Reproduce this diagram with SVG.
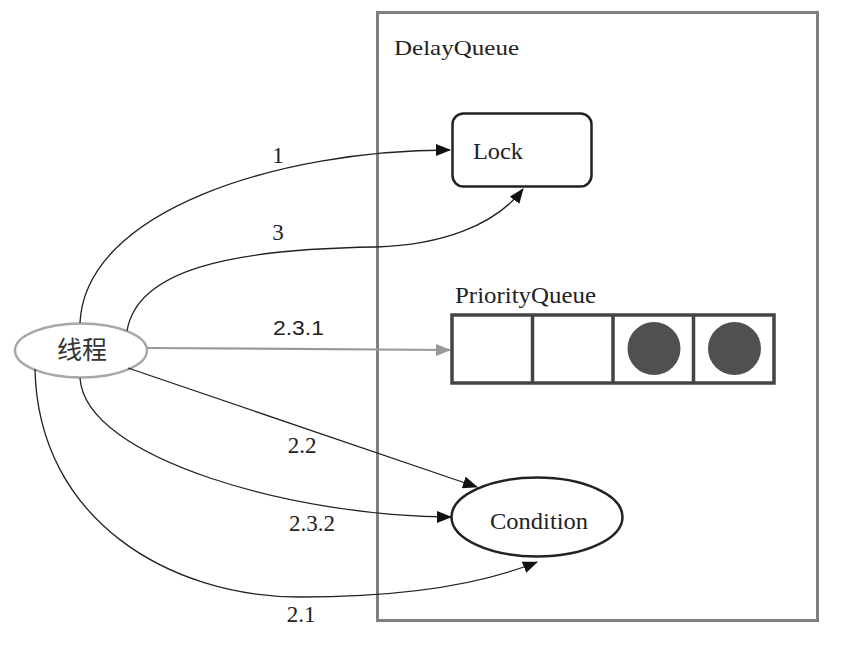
<svg xmlns="http://www.w3.org/2000/svg" width="846" height="646" viewBox="0 0 846 646">
<style>
.serif{font-family:"Liberation Serif","Times New Roman",serif;fill:#222;}
.sans{font-family:"Liberation Sans",Arial,sans-serif;fill:#222;}
.cjk{font-family:"Liberation Sans","Noto Sans CJK SC",sans-serif;fill:#333;}
.conn{fill:none;stroke:#222;stroke-width:1.3;}
.connGray{fill:none;stroke:#999;stroke-width:2.2;}
.lbl{font-size:23px;text-anchor:middle;}
</style>
<defs>
<marker id="arr" markerWidth="16" markerHeight="12" refX="14" refY="6" orient="auto" markerUnits="userSpaceOnUse">
<path d="M0,0 L15,6 L0,12 Z" fill="#111"/>
</marker>
<marker id="arrGray" markerWidth="16" markerHeight="12" refX="14" refY="6" orient="auto" markerUnits="userSpaceOnUse">
<path d="M0,0 L15,6 L0,12 Z" fill="#999"/>
</marker>
</defs>
<rect x="0" y="0" width="846" height="646" fill="#fff"/>

<g id="delayqueue">
<rect x="377.5" y="12.5" width="440" height="608" fill="none" stroke="#7f7f7f" stroke-width="3"/>
<text class="serif" x="394" y="55" font-size="22" textLength="125" lengthAdjust="spacingAndGlyphs">DelayQueue</text>
</g>

<g id="lock">
<rect x="452.5" y="113.5" width="139" height="73" rx="11" ry="11" fill="#fff" stroke="#222" stroke-width="2.5"/>
<text class="serif" x="473" y="159" font-size="24" textLength="50" lengthAdjust="spacingAndGlyphs">Lock</text>
</g>

<g id="priorityqueue">
<text class="serif" x="455" y="303" font-size="23" textLength="141" lengthAdjust="spacingAndGlyphs">PriorityQueue</text>
<rect x="452" y="315" width="322" height="68" fill="#fff" stroke="#444" stroke-width="3.5"/>
<line x1="532.5" y1="315" x2="532.5" y2="383" stroke="#444" stroke-width="3.5"/>
<line x1="613" y1="315" x2="613" y2="383" stroke="#444" stroke-width="3.5"/>
<line x1="693.5" y1="315" x2="693.5" y2="383" stroke="#444" stroke-width="3.5"/>
<circle cx="654" cy="348.5" r="26.5" fill="#505050"/>
<circle cx="734.5" cy="348.5" r="26.5" fill="#505050"/>
</g>

<g id="condition">
<ellipse cx="537" cy="517" rx="85.5" ry="39.5" fill="#fff" stroke="#222" stroke-width="2.5"/>
<text class="serif" x="539" y="529" font-size="24" text-anchor="middle" textLength="98" lengthAdjust="spacingAndGlyphs">Condition</text>
</g>

<g id="thread">
<ellipse cx="81" cy="350.5" rx="66" ry="27" fill="#fff" stroke="#a8a8a8" stroke-width="2.5"/>
<text class="cjk" x="82" y="359" font-size="25" text-anchor="middle">线程</text>
</g>

<g id="connectors">
<path class="conn" d="M80,323 C85,210 280,150 450,150" marker-end="url(#arr)"/>
<path class="conn" d="M127,331 C137,270 230,249 376,247 C440,245 495,226 523,189" marker-end="url(#arr)"/>
<path class="connGray" d="M147,348 L450,350" marker-end="url(#arrGray)"/>
<path class="conn" d="M128,368 L477,487" marker-end="url(#arr)"/>
<path class="conn" d="M80,378 C85,460 300,517 451,517" marker-end="url(#arr)"/>
<path class="conn" d="M35,369 C38,520 170,597 300,597 C400,597 480,585 537,562" marker-end="url(#arr)"/>
<text class="serif lbl" x="278" y="163">1</text>
<text class="serif lbl" x="278" y="240">3</text>
<text class="sans" x="273" y="335" font-size="21" textLength="51" lengthAdjust="spacingAndGlyphs">2.3.1</text>
<text class="serif lbl" x="302" y="453">2.2</text>
<text class="serif lbl" x="312" y="531">2.3.2</text>
<text class="serif lbl" x="301" y="622">2.1</text>
</g>
</svg>
